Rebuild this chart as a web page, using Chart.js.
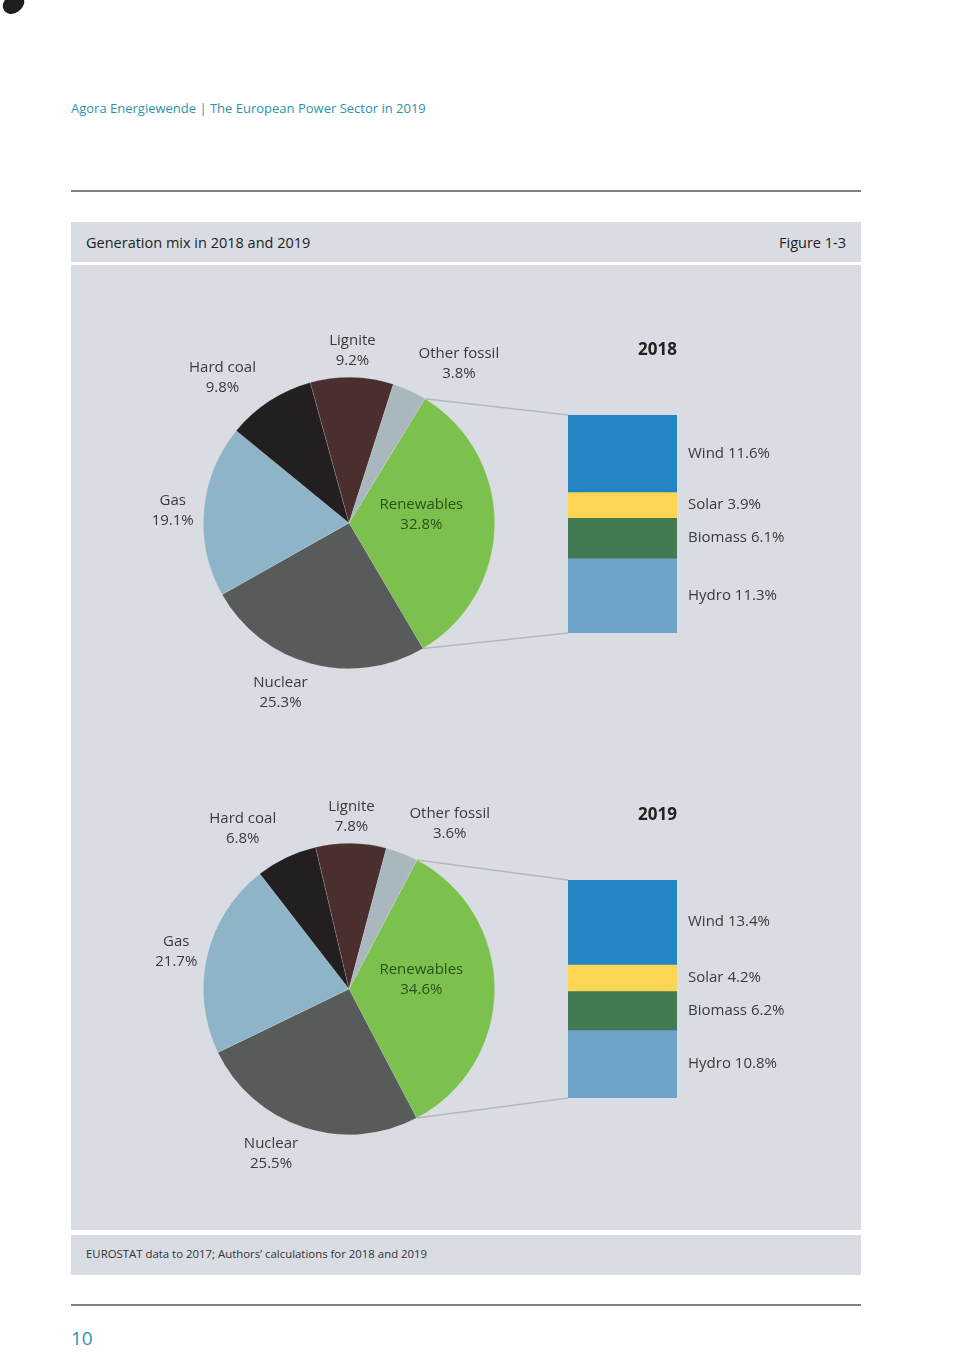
<!DOCTYPE html>
<html>
<head>
<meta charset="utf-8">
<title>Generation mix in 2018 and 2019</title>
<script src="https://cdn.jsdelivr.net/npm/chart.js@4.4.1/dist/chart.umd.min.js"></script>
<style>
  body { margin: 0; background: #fff; font-family: "Open Sans", sans-serif; }
  #page { position: relative; width: 968px; height: 1366px; overflow: hidden; }
  .abs { position: absolute; }
  .panel { background: #d9dce3; left: 71px; width: 790px; }
  .rule { left: 71px; width: 790px; height: 2px; background: #7f7f7f; }
  canvas { position: absolute; }
</style>
</head>
<body>
<div id="page">
  <div class="abs" style="left:2px;top:-5px;width:23px;height:18px;border-radius:50%;background:#1e1e1e;transform:rotate(-35deg);"></div>
  <div class="abs" style="left:71px;top:99px;font-size:13px;color:#2a93b1;line-height:18px;">Agora Energiewende | The European Power Sector in 2019</div>
  <div class="abs rule" style="top:190px;"></div>

  <div class="abs panel" style="top:222px;height:40px;"></div>
  <div class="abs" style="left:86px;top:222px;line-height:42px;font-size:14.5px;color:#222;">Generation mix in 2018 and 2019</div>
  <div class="abs" style="right:122px;top:222px;line-height:42px;font-size:14.5px;color:#222;">Figure 1-3</div>
  <div class="abs panel" style="top:265px;height:965px;"></div>
  <div class="abs panel" style="top:1235px;height:40px;"></div>
  <div class="abs" style="left:86px;top:1235px;line-height:38px;font-size:11.4px;color:#333;">EUROSTAT data to 2017; Authors’ calculations for 2018 and 2019</div>

  <div class="abs rule" style="top:1304px;"></div>
  <div class="abs" style="left:71px;top:1326px;font-size:19px;color:#2a93b1;line-height:24px;">10</div>

  <canvas id="bar2018" width="320" height="340" style="left:540px;top:320px;"></canvas>
  <canvas id="pie2018" width="470" height="450" style="left:100px;top:300px;"></canvas>
  <canvas id="bar2019" width="320" height="340" style="left:540px;top:785px;"></canvas>
  <canvas id="pie2019" width="470" height="450" style="left:100px;top:766px;"></canvas>
</div>

<script>
// values (shares of generation, %)
const categories = ['Renewables', 'Nuclear', 'Gas', 'Hard coal', 'Lignite', 'Other fossil'];
const share2018 = [32.8, 25.3, 19.1, 9.8, 9.2, 3.8];
const share2019 = [34.6, 25.5, 21.7, 6.8, 7.8, 3.6];
const renewableTypes = ['Wind', 'Solar', 'Biomass', 'Hydro'];
const renewables2018 = [11.6, 3.9, 6.1, 11.3];
const renewables2019 = [13.4, 4.2, 6.2, 10.8];

const pieColors = ['#7cc04e', '#575c5a', '#8db5c7', '#231f20', '#4b2f2f', '#a9b7bf'];
const barColors = ['#2485c5', '#fcd652', '#427a55', '#6ea4c7'];

// where each pie label sits: angle nudge (deg) and distance past the rim
const labelPlace = {
  'Renewables':   { shift: -7, inside: 0.5 },
  'Nuclear':      { shift: 7,  pad: 37 },
  'Gas':          { shift: -1, pad: 31 },
  'Hard coal':    { shift: -8, pad: 47 },
  'Lignite':      { shift: 0,  pad: 27 },
  'Other fossil': { shift: 10, pad: 48 }
};

const pct = v => v.toFixed(1) + '%';
const sum = arr => arr.reduce((a, b) => a + b, 0);

function drawYear(year, shares, renew, rotation, pieId, barId) {
  const barChart = new Chart(document.getElementById(barId), {
    type: 'bar',
    data: {
      labels: [year],
      datasets: renewableTypes.map((t, i) => ({
        label: t,
        data: [renew[i]],
        backgroundColor: barColors[i],
        borderWidth: 0,
        barPercentage: 1,
        categoryPercentage: 1
      }))
    },
    options: {
      responsive: false,
      animation: false,
      layout: { padding: { left: 28, right: 183, top: 95, bottom: 27 } },
      plugins: { legend: { display: false }, tooltip: { enabled: false } },
      scales: {
        x: { stacked: true, display: false },
        y: { stacked: true, display: false, reverse: true, min: 0, max: sum(renew) }
      }
    },
    plugins: [{
      id: 'barText',
      afterDatasetsDraw(chart) {
        const ctx = chart.ctx;
        const area = chart.chartArea;
        ctx.save();
        ctx.textBaseline = 'middle';
        ctx.font = 'bold 17px "Open Sans"';
        ctx.fillStyle = '#222';
        ctx.textAlign = 'right';
        ctx.fillText(year, area.right, area.top - 65);
        ctx.font = '15px "Open Sans"';
        ctx.fillStyle = '#3a3a3a';
        ctx.textAlign = 'left';
        chart.data.datasets.forEach((ds, i) => {
          const bar = chart.getDatasetMeta(i).data[0];
          ctx.fillText(ds.label + ' ' + pct(ds.data[0]), area.right + 11, (bar.y + bar.base) / 2);
        });
        ctx.restore();
      }
    }]
  });

  new Chart(document.getElementById(pieId), {
    type: 'pie',
    data: {
      labels: categories,
      datasets: [{
        data: shares,
        backgroundColor: pieColors,
        borderWidth: 0.6,
        borderColor: 'rgba(255,255,255,0.25)'
      }]
    },
    options: {
      responsive: false,
      animation: false,
      rotation: rotation,
      layout: { padding: { left: 103, right: 75, top: 77, bottom: 81 } },
      plugins: { legend: { display: false }, tooltip: { enabled: false } }
    },
    plugins: [{
      id: 'pieText',
      afterDatasetsDraw(chart) {
        const ctx = chart.ctx;
        const arcs = chart.getDatasetMeta(0).data;
        ctx.save();

        // connectors from the renewables slice to the breakdown bar
        const ren = arcs[0];
        const pb = chart.canvas.getBoundingClientRect();
        const bb = barChart.canvas.getBoundingClientRect();
        const ox = bb.left - pb.left, oy = bb.top - pb.top;
        const topBar = barChart.getDatasetMeta(0).data[0];
        const botBar = barChart.getDatasetMeta(renewableTypes.length - 1).data[0];
        const barLeft = topBar.x - topBar.width / 2 + ox;
        const barTop = Math.min(topBar.y, topBar.base) + oy;
        const barBottom = Math.max(botBar.y, botBar.base) + oy;
        ctx.strokeStyle = '#b3b7bd';
        ctx.lineWidth = 1.5;
        ctx.beginPath();
        ctx.moveTo(ren.x + ren.outerRadius * Math.cos(ren.startAngle), ren.y + ren.outerRadius * Math.sin(ren.startAngle));
        ctx.lineTo(barLeft, barTop);
        ctx.moveTo(ren.x + ren.outerRadius * Math.cos(ren.endAngle), ren.y + ren.outerRadius * Math.sin(ren.endAngle));
        ctx.lineTo(barLeft, barBottom);
        ctx.stroke();

        // slice labels
        ctx.font = '15px "Open Sans"';
        ctx.textAlign = 'center';
        ctx.textBaseline = 'middle';
        arcs.forEach((arc, i) => {
          const name = categories[i];
          const place = labelPlace[name];
          const a = (arc.startAngle + arc.endAngle) / 2 + place.shift * Math.PI / 180;
          const d = place.inside ? arc.outerRadius * place.inside : arc.outerRadius + place.pad;
          const cx = arc.x + d * Math.cos(a);
          const cy = arc.y + d * Math.sin(a);
          ctx.fillStyle = place.inside ? '#2c501c' : '#3a3a3a';
          ctx.fillText(name, cx, cy - 10);
          ctx.fillText(pct(shares[i]), cx, cy + 10);
        });
        ctx.restore();
      }
    }]
  });
}

drawYear('2018', share2018, renewables2018, 31.4, 'pie2018', 'bar2018');
drawYear('2019', share2019, renewables2019, 27.8, 'pie2019', 'bar2019');
</script>
</body>
</html>
